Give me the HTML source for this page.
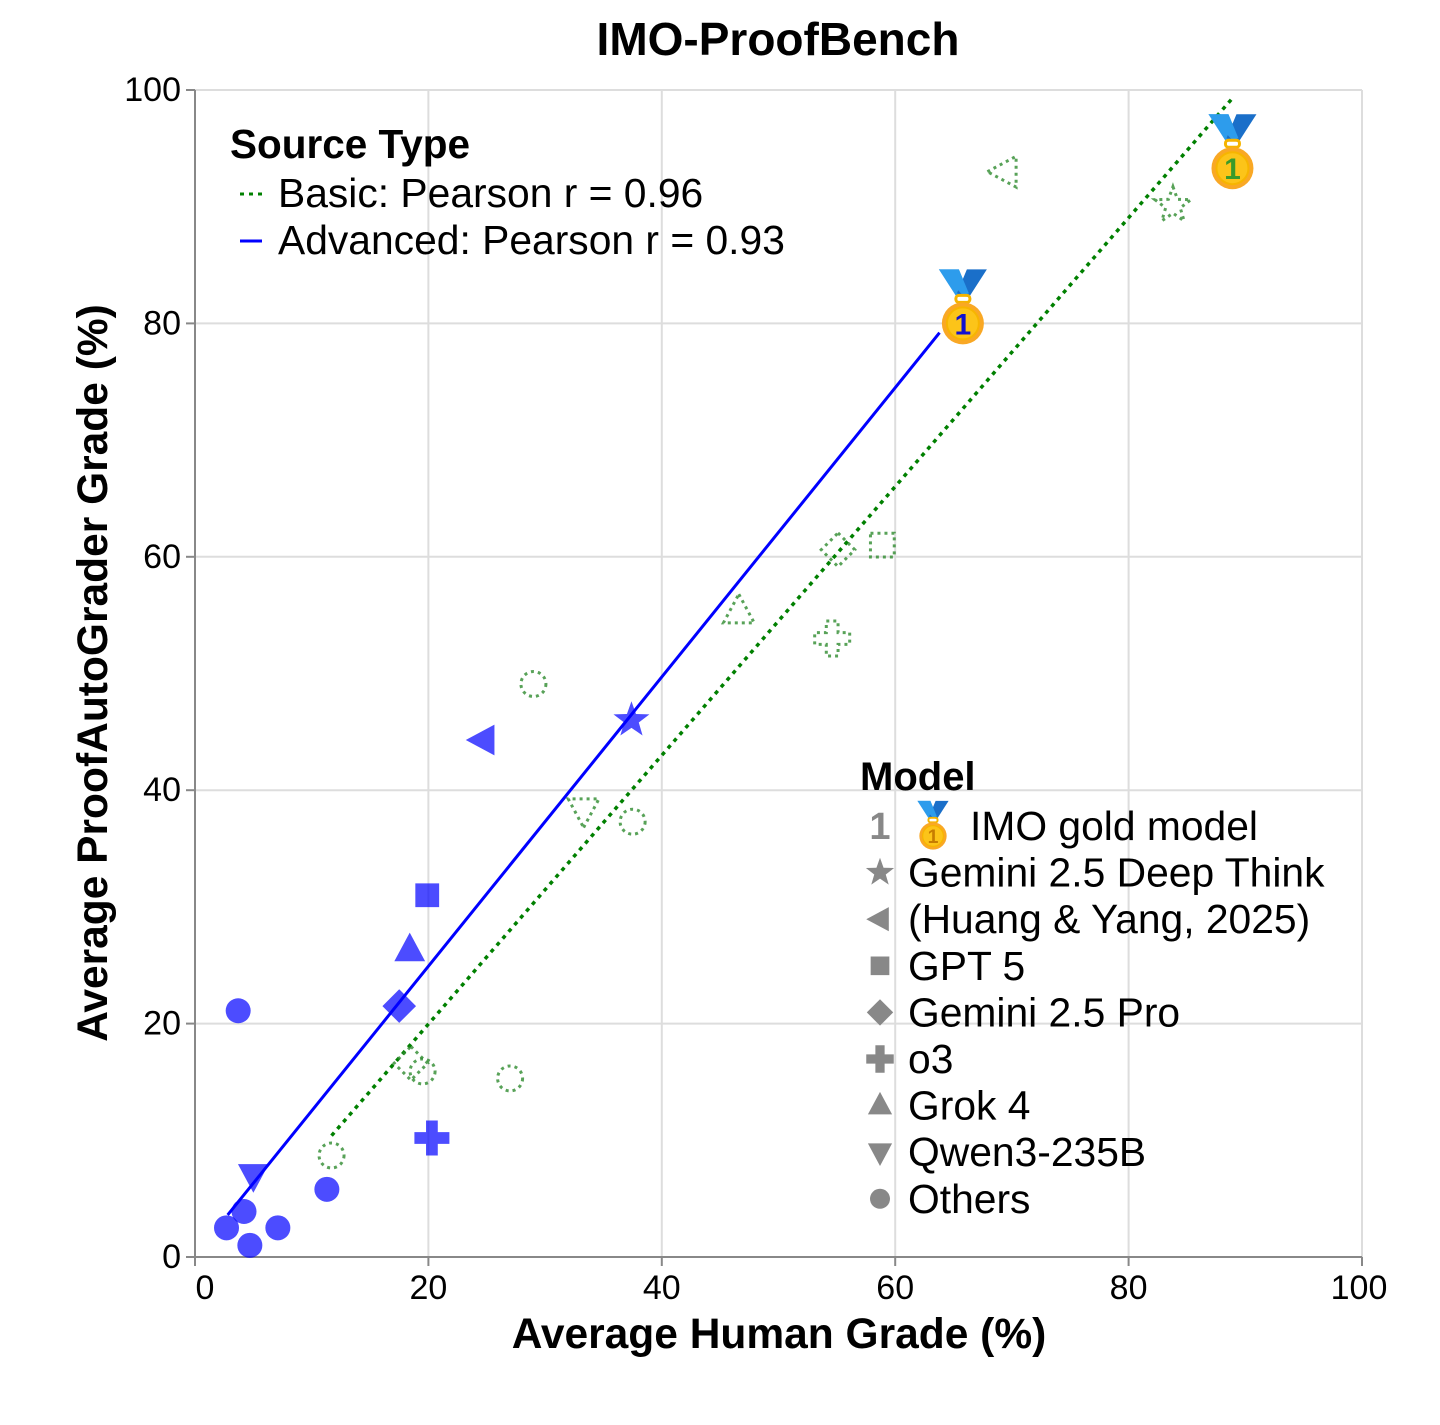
<!DOCTYPE html>
<html><head><meta charset="utf-8"><style>
body{margin:0;background:#fff}
svg text{font-family:"Liberation Sans",sans-serif}
</style></head><body>
<svg id="chart" width="1440" height="1420" viewBox="0 0 1440 1420" xmlns="http://www.w3.org/2000/svg">
<rect width="1440" height="1420" fill="#fff"/>
<text x="778" y="55" text-anchor="middle" font-size="46" font-weight="bold">IMO-ProofBench</text>
<g id="grid"></g>
<g id="axes"></g>
<g id="lines"></g>
<g id="marks"></g>
<text x="779" y="1348" text-anchor="middle" font-size="42.5" font-weight="bold">Average Human Grade (%)</text>
<text transform="translate(107,673) rotate(-90)" text-anchor="middle" font-size="42.5" font-weight="bold">Average ProofAutoGrader Grade (%)</text>
<g>
<text x="230" y="158" font-size="40.5" font-weight="bold">Source Type</text>
<line x1="240" y1="194" x2="262" y2="194" stroke="#008000" stroke-width="3" stroke-dasharray="4,5"/>
<text x="278" y="207" font-size="40.8">Basic: Pearson r = 0.96</text>
<line x1="240" y1="241" x2="262" y2="241" stroke="#0000ff" stroke-width="3"/>
<text x="278" y="254" font-size="40.8">Advanced: Pearson r = 0.93</text>
</g>
<g id="modelLegend">
<text x="860" y="790" font-size="40" font-weight="bold">Model</text>
</g>
</svg>
<script>
const xTicks=[0,20,40,60,80,100];
const yTicks=[0,20,40,60,80,100];
const advShapes=["medal","star","left","square","up","diamond","plus","down","circle","circle","circle","circle","circle","circle"];
const advX=[65.8,37.4,24.7,19.9,18.4,17.5,20.3,5.0,3.7,11.3,4.2,2.7,7.1,4.7];
const advY=[80.0,46.0,44.3,31.0,26.3,21.5,10.2,7.0,21.1,5.8,3.9,2.5,2.5,1.0];
const basShapes=["medal","left","star","square","diamond","plus","up","down","circle","circle","circle","circle","circle","diamond"];
const basX=[88.9,69.4,83.8,58.9,55.1,54.6,46.6,33.3,29.0,37.5,27.0,19.5,11.7,18.5];
const basY=[93.3,93.0,90.1,61.0,60.6,53.0,55.3,38.3,49.1,37.3,15.3,15.9,8.7,16.6];
const advFitX=[2.8,63.8];
const advFitY=[3.6,79.2];
const basFitX=[11.7,88.9];
const basFitY=[10.4,99.3];
const legendLabels=["IMO gold model","Gemini 2.5 Deep Think","(Huang & Yang, 2025)","GPT 5","Gemini 2.5 Pro","o3","Grok 4","Qwen3-235B","Others"];
const legendShapes=["medal","star","left","square","diamond","plus","up","down","circle"];

const NS="http://www.w3.org/2000/svg";
const X0=195,X1=1362,Y0=1257,Y1=90;
const sx=v=>X0+(X1-X0)*v/100, sy=v=>Y0-(Y0-Y1)*v/100;
function mk(tag,attrs,parent){const e=document.createElementNS(NS,tag);for(const k in attrs)e.setAttribute(k,attrs[k]);parent.appendChild(e);return e;}
const grid=document.getElementById('grid'),axes=document.getElementById('axes');
xTicks.forEach(t=>{
  const l=mk('line',{x1:sx(t),x2:sx(t),y1:Y1,y2:Y0,stroke:'#ddd','stroke-width':2},grid);
  
  
  const tk=mk('line',{x1:sx(t),x2:sx(t),y1:Y0,y2:Y0+9,stroke:'#888','stroke-width':2},axes);
  
  
  const tx=mk('text',{x:sx(t)+(t===0?10:(t===100?-3:0)),y:Y0+42,'text-anchor':'middle','font-size':34},axes);
  tx.textContent=t;
  
  
});
yTicks.forEach(t=>{
  const l=mk('line',{x1:X0,x2:X1,y1:sy(t),y2:sy(t),stroke:'#ddd','stroke-width':2},grid);
  
  
  const tk=mk('line',{x1:X0-9,x2:X0,y1:sy(t),y2:sy(t),stroke:'#888','stroke-width':2},axes);
  
  
  const tx=mk('text',{x:X0-14,y:sy(t)+11,'text-anchor':'end','font-size':34},axes);
  tx.textContent=t;
  
  
});
const xa=mk('line',{x1:X0,x2:X1,y1:Y0,y2:Y0,stroke:'#888','stroke-width':2},axes);


const ya=mk('line',{x1:X0,x2:X0,y1:Y1,y2:Y0,stroke:'#888','stroke-width':2},axes);



const lines=document.getElementById('lines');
const bl=mk('line',{x1:sx(advFitX[0]),y1:sy(advFitY[0]),x2:sx(advFitX[1]),y2:sy(advFitY[1]),stroke:'#0000ff','stroke-width':3},lines);


const gl=mk('line',{x1:sx(basFitX[0]),y1:sy(basFitY[0]),x2:sx(basFitX[1]),y2:sy(basFitY[1]),stroke:'#008000','stroke-width':3.5,'stroke-dasharray':'4,5'},lines);



function shapePath(s,r){
  switch(s){
    case 'circle': return null;
    case 'square': return `M${-r*0.85},${-r*0.85}h${1.7*r}v${1.7*r}h${-1.7*r}z`;
    case 'diamond': return `M0,${-r*1.2}L${r*1.2},0L0,${r*1.2}L${-r*1.2},0z`;
    case 'up': return `M0,${-r*1.25}L${r*1.1},${r*0.8}L${-r*1.1},${r*0.8}z`;
    case 'down': return `M0,${r*1.25}L${r*1.1},${-r*0.8}L${-r*1.1},${-r*0.8}z`;
    case 'left': return `M${-r*1.25},0L${r*0.8},${-r*1.1}L${r*0.8},${r*1.1}z`;
    case 'plus': {const a=r*0.42,b=r*1.25;return `M${-a},${-b}h${2*a}v${b-a}h${b-a}v${2*a}h${-(b-a)}v${b-a}h${-2*a}v${-(b-a)}h${-(b-a)}v${-2*a}h${b-a}z`;}
    case 'star': {let p='';for(let i=0;i<10;i++){const rr=i%2?r*0.55:r*1.35;const a=-Math.PI/2+i*Math.PI/5;p+=(i?'L':'M')+(rr*Math.cos(a)).toFixed(2)+','+(rr*Math.sin(a)).toFixed(2);}return p+'z';}
  }
}
function medal(g,cx,cy,sc,numColor){
  const m=mk('g',{transform:`translate(${cx},${cy}) scale(${sc})`},g);
  mk('path',{d:'M-24,-54L-4,-54L6,-30L-6,-26z',fill:'#2d9cec'},m);
  mk('path',{d:'M24,-54L4,-54L-6,-30L6,-26z',fill:'#1a6fc9'},m);
  mk('path',{d:'M-24,-54L-4,-54L6,-30L0,-28z',fill:'#2d9cec'},m);
  mk('rect',{x:-7,y:-28,width:14,height:7,rx:3,fill:'none',stroke:'#f5b400','stroke-width':3},m);
  mk('circle',{cx:0,cy:0,r:21,fill:'#f9a825'},m);
  mk('circle',{cx:0,cy:0,r:16,fill:'#fcc419',stroke:'#f7b500','stroke-width':2},m);
  const t=mk('text',{x:0,y:11,'text-anchor':'middle','font-size':30,'font-weight':'bold',fill:numColor},m);
  t.textContent='1';
  return m;
}
const marks=document.getElementById('marks');
function draw(shapes,xs,ys,basic){
  shapes.forEach((s,i)=>{
    const cx=sx(xs[i]),cy=sy(ys[i]);
    let el;
    if(s==='medal'){
      el=medal(marks,cx,cy,1,basic?'#3a9a2a':'#1010d0');
    } else {
      const r=14;
      const st=basic?{fill:'none',stroke:'#2e8b2e','stroke-width':3,'stroke-dasharray':'3,4',opacity:0.8}:{fill:'#0000ff',opacity:0.7};
      if(s==='circle') el=mk('circle',Object.assign({cx,cy,r:12.5},st),marks);
      else el=mk('path',Object.assign({d:shapePath(s,r),transform:`translate(${cx},${cy})`},st),marks);
    }
    
    
  });
}
draw(basShapes,basX,basY,true);
draw(advShapes,advX,advY,false);

const ml=document.getElementById('modelLegend');
legendLabels.forEach((lab,i)=>{
  const y=826+i*46.6;
  const g=mk('g',{},ml);
  
  
  let tx=908;
  if(legendShapes[i]==='medal'){
    const one=mk('text',{x:880,y:y+13,'text-anchor':'middle','font-size':38,'font-weight':'bold',fill:'#888'},g);one.textContent='1';
    medal(g,933,y+10,0.65,'#c77d00');
    tx=970;
  } else if(legendShapes[i]==='circle'){
    mk('circle',{cx:880,cy:y,r:10,fill:'#888'},g);
  } else {
    mk('path',{d:shapePath(legendShapes[i],11),transform:`translate(880,${y})`,fill:'#888'},g);
  }
  const t=mk('text',{x:tx,y:y+14,'font-size':40.8},g);
  t.textContent=lab;
});
</script>
</body></html>
